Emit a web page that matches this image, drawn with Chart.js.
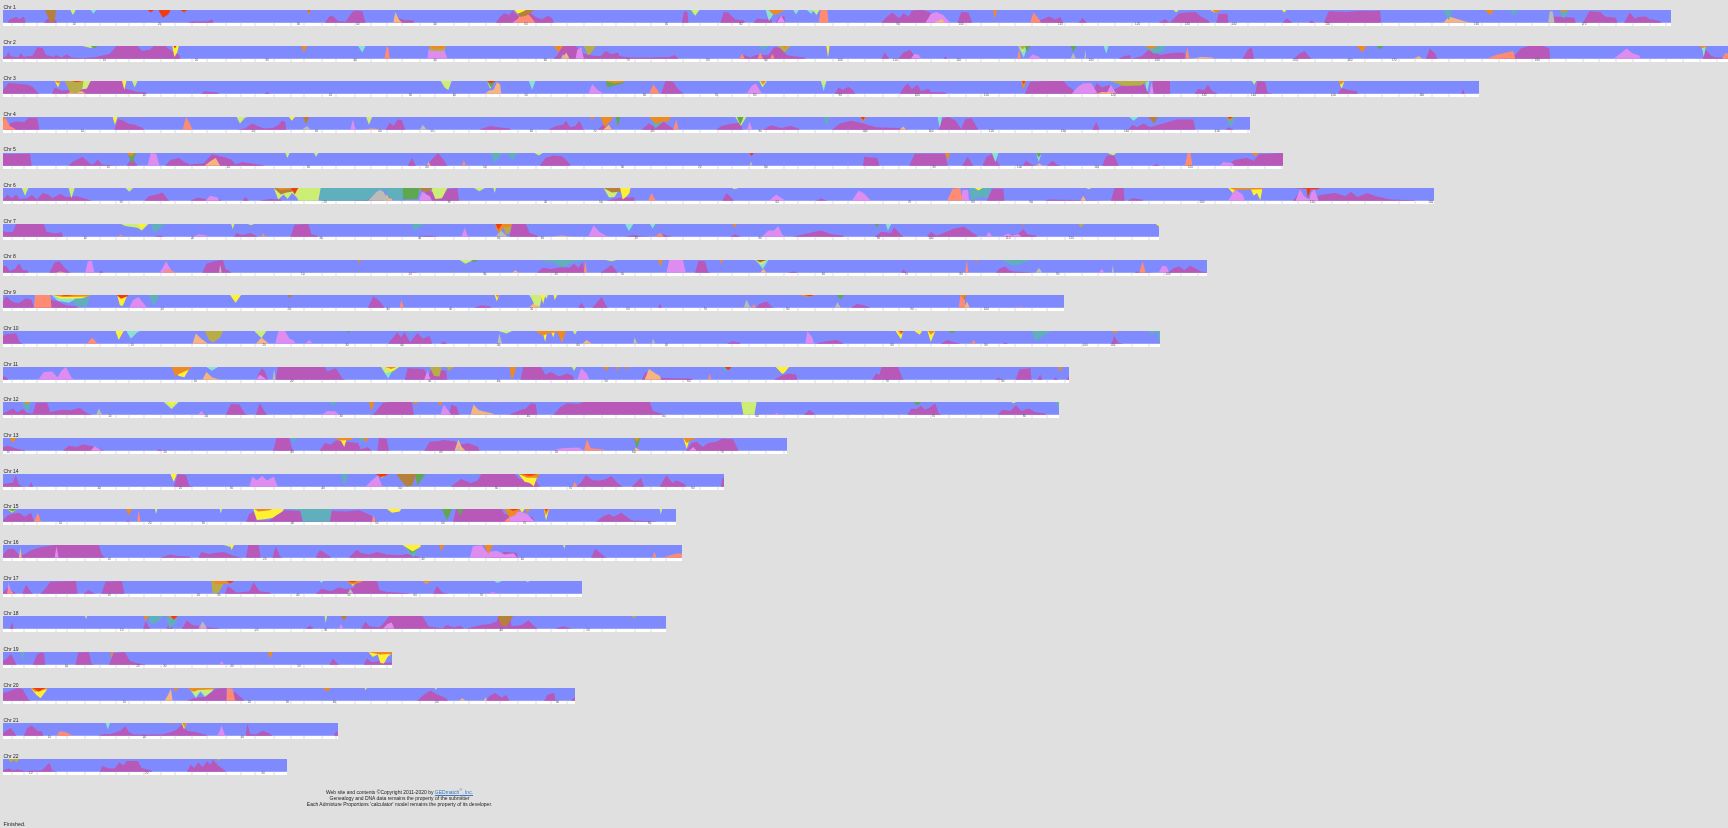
<!DOCTYPE html>
<html>
<head>
<meta charset="utf-8">
<title>Admixture painting</title>
<script src="https://cdn.jsdelivr.net/npm/chart.js@4"></script>
<style>
  html, body { margin: 0; height: 100%; background: #e0e0e0; overflow: hidden; }
  #page { position: relative; width: 1728px; height: 828px; filter: blur(0.45px); font-family: "Liberation Sans", Arial, sans-serif; color: #222; }
  #page canvas { position: absolute; }
  .chr { position: absolute; left: 3.5px; font-size: 5px; line-height: 6px; }
  #foot { position: absolute; left: 250px; width: 299px; top: 790px; text-align: center; font-size: 5px; line-height: 5.8px; }
  #foot a { color: #3a78c0; }
  #foot sup { font-size: 4px; line-height: 0; }
  #done { position: absolute; left: 3.5px; top: 821px; font-size: 5.4px; line-height: 6px; }
</style>
</head>
<body>
<div id="page">
  <div id="foot">Web site and contents ©Copyright 2011-2020 by <a href="#">GEDmatch<sup>®</sup>, Inc.</a><br>Genealogy and DNA data remains the property of the submitter<br>Each Admixture Proportions 'calculator' model remains the property of its developer.</div>
  <div id="done">Finished.</div>
</div>
<script>
// position along the chromosome, share of the bar - pairs, bottom layers grow up, top layers hang down
const chrNames = ['Chr 1','Chr 2','Chr 3','Chr 4','Chr 5','Chr 6','Chr 7','Chr 8','Chr 9','Chr 10','Chr 11','Chr 12','Chr 13','Chr 14','Chr 15','Chr 16','Chr 17','Chr 18','Chr 19','Chr 20','Chr 21','Chr 22'];
const chrStart = [6,6,6,6,6,6,6,6,6,6,6,6,6,7,7,7,7,7,8,8,8,8];
const chrEnd = [3033,3136,2684,2269,2328,2601,2104,2191,1931,2106,1940,1923,1428,1421,1327,1338,1142,1308,878,1289,759,644];
const chrPixels = [1668,1725,1476,1247,1280,1431,1156,1204,1061,1157,1066,1056,784,721,673,679,579,663,389,572,335,284];

const colors = { mag:'#b858b8', pink:'#de8cf0', salmon:'#ff8c72', peach:'#f6b480', grey:'#bcbcb4', teal:'#5fb0bc', mint:'#86e2d2', lime:'#cdee74', green:'#5fa850', olive:'#b8ac48', brown:'#b5803c', yellow:'#fff032', orange:'#ec8a24', red:'#f03c12' };
const bottomLayers = ['mag','pink','salmon','peach','grey'];
const topLayers = ['teal','mint','lime','green','olive','brown','yellow','orange','red'];

// chr 1
const mag1 = [14,0,18,.25,24,.35,30,.45,36,.3,44,.5,47,0,80,0,86,.3,100,.3,104,0,340,0,350,.12,365,.1,378,.12,385,.3,388,0,590,0,598,.5,604,.55,614,.15,628,.1,640,.85,645,.95,658,.9,664,0,715,0,725,.35,735,.2,750,.2,752,0,900,0,908,.45,915,.75,925,.6,930,.95,945,.4,960,.85,975,.4,985,.3,995,.55,1003,.35,1005,0,1238,0,1242,.9,1248,.85,1250,0,1308,0,1314,.85,1322,.8,1335,.25,1350,.2,1352,0,1368,0,1375,.35,1385,.25,1400,.3,1402,0,1408,0,1415,.5,1424,.5,1426,0,1600,0,1608,.4,1620,.8,1632,.35,1640,.75,1650,.5,1655,.95,1675,1,1688,.8,1700,.5,1713,.3,1716,0,1738,0,1745,.85,1758,.8,1765,0,1880,0,1888,.2,1905,.5,1915,.25,1925,.45,1930,0,1958,0,1965,.4,1973,0,2103,0,2115,.3,2123,0,2128,.2,2140,.75,2155,.8,2170,.85,2180,.5,2193,.2,2196,0,2208,0,2212,.7,2228,.7,2230,0,2328,0,2336,.35,2346,0,2376,0,2381,.2,2386,0,2403,0,2412,.9,2445,.85,2470,.95,2490,.9,2505,.95,2507,0,2810,0,2820,.5,2858,.4,2860,0,2873,0,2885,.9,2905,.85,2913,.5,2933,.4,2936,0,2948,0,2958,.8,2968,.3,2973,.45,2988,.5,2993,.3,3013,.15,3016,0];
const pink1 = [930,0,940,.3,950,.6,962,.3,970,0,1410,0,1418,.55,1426,0,1680,0,1690,.7,1700,.85,1712,.6,1722,.15,1726,0];
const salmon1 = [935,0,945,.6,955,.85,965,.4,972,0,1486,0,1490,1,1502,1,1504,0,1870,0,1876,.8,1884,.4,1890,0];
const peach1 = [714,0,718,.85,724,.3,730,0,1695,0,1710,.3,1716,0,2620,0,2630,.5,2645,.3,2660,.1,2670,0];
const grey1 = [2810,0,2813,.9,2818,.9,2822,0];
const teal1 = [1250,0,1258,.4,1266,0,2620,0,2630,.8,2636,0,2740,0,2748,.4,2756,0,2830,0,2838,.7,2848,0];
const mint1 = [165,0,170,.3,175,0,1390,0,1396,.85,1403,.4,1408,0,1440,0,1445,.35,1450,0,1465,0,1472,.3,1480,0];
const lime1 = [128,0,133,.4,138,0,1255,0,1262,.45,1270,0,1476,0,1482,.4,1488,0,2130,0,2135,.2,2140,0];
const brown1 = [82,0,92,.95,100,.85,102,0,332,0,336,.25,340,0,935,0,945,.55,955,.45,965,.2,970,0];
const yellow1 = [934,0,940,.3,948,.15,955,0,2197,0,2205,.2,2212,0,2327,0,2331,.2,2335,0];
const orange1 = [558,0,561,.35,565,0,1395,0,1405,.4,1412,.3,1425,0,1803,0,1806,.75,1810,0,2200,0,2208,.25,2215,0,2695,0,2705,.4,2712,0,2830,0,2838,.15,2848,0];
const red1 = [268,0,274,.2,280,0,288,0,296,.6,306,.35,310,0,328,0,334,.15,340,0,560,0,561,.2,563,0];

// chr 2
const mag2 = [6,.1,12,.2,16,.55,20,.2,34,.1,38,.45,44,.15,60,.25,68,.9,78,.85,84,.3,98,.15,102,.3,112,.1,122,.35,130,.1,150,.05,175,.15,200,.4,212,1,250,1,258,.6,272,.7,280,1,300,1,312,.6,326,.3,328,0,1005,0,1012,.3,1020,1,1045,1,1060,.4,1075,.25,1090,.2,1100,.6,1110,.35,1122,.5,1125,.2,1145,.1,1170,.1,1180,.1,1215,.15,1225,.3,1232,0,1342,0,1350,.3,1362,.1,1372,.3,1395,.3,1405,.9,1418,.85,1428,.3,1440,.2,1460,.1,1462,0,1600,0,1606,.5,1614,0,1630,0,1640,.5,1652,.7,1660,.2,1670,0,1713,0,1716,.2,1720,0,2030,0,2040,.2,2051,.3,2053,0,2072,.2,2085,.7,2095,.5,2106,.3,2125,.45,2150,.5,2153,0,2255,0,2265,.7,2272,.9,2276,0,2348,0,2358,.4,2368,.6,2373,.3,2380,0,2588,0,2595,.8,2605,.4,2608,0,2720,0,2735,.2,2750,.3,2760,.8,2775,1,2800,1,2812,.8,2813,0,3090,0,3096,.7,3106,.2,3116,.1,3136,.1];
const pink2 = [776,0,778,.7,790,.85,806,.85,812,0,1045,0,1048,.7,1055,.9,1060,.05,1062,0,1653,0,1660,.4,1668,.3,1672,0,1866,0,1875,.35,1886,.15,1890,0,2928,0,2945,.55,2952,.8,2962,.45,2975,.25,2978,0];
const salmon2 = [698,0,702,.95,705,.9,708,0,1342,0,1347,.4,1352,0,1375,0,1380,.5,1385,0,1398,0,1402,.4,1406,0,1846,0,1850,.8,1853,0,2151,0,2155,.95,2159,0,2698,0,2715,.3,2746,.6,2750,0,3125,0,3132,.5,3136,.4];
const peach2 = [1020,0,1028,.5,1034,0,2163,0,2180,.15,2200,.1,2203,0,2565,0,2575,.2,2582,0];
const grey2 = [1018,0,1022,.35,1028,0,1943,0,1948,.45,1953,0,1968,0,1970,.7,1972,0];
const teal2 = [1378,0,1386,.4,1394,0,2076,0,2095,.6,2112,.4,2116,0];
const mint2 = [650,0,658,.5,664,0,1848,0,1858,.9,1866,0,2003,0,2008,.6,2012,0,3088,0,3092,.85,3096,0];
const lime2 = [150,0,165,.15,175,0,1850,0,1856,.55,1862,0,3088,0,3090,.3,3094,0];
const green2 = [165,0,172,.2,178,0,1860,0,1864,.5,1870,0,1943,0,1948,.5,1953,0,2498,0,2505,.3,2510,0];
const olive2 = [778,0,782,.4,806,.4,810,0,1060,0,1068,.75,1074,.5,1082,0,1412,0,1424,.5,1435,0,1850,0,1856,.3,1862,0];
const yellow2 = [313,0,317,.85,322,.5,325,0,1500,0,1503,.9,1506,0];
const orange2 = [547,0,552,.5,558,0,778,0,790,.25,806,.2,810,0,1005,0,1014,.5,1022,0,1420,0,1424,.2,1430,0,2078,0,2090,.25,2100,0,2462,0,2473,.5,2480,0,3082,0,3090,.15,3100,0];
const red2 = [315,0,318,.2,321,0];

// chr 3
const mag3 = [6,.3,16,.85,30,.8,50,.7,60,.55,68,.15,72,0,95,0,100,.5,112,.25,125,.3,150,.3,160,.9,170,1,222,1,228,.4,238,.3,250,.15,265,.1,268,0,365,0,372,.2,395,.1,398,0,480,0,486,.15,490,0,1200,0,1208,1,1222,.95,1230,.4,1237,.15,1240,0,1515,0,1522,.5,1530,.3,1540,.55,1550,.2,1552,0,1633,0,1640,.5,1648,.8,1655,.35,1665,.7,1672,.2,1685,.4,1690,.15,1715,.1,1718,0,1860,0,1870,.95,1905,1,1930,1,1938,.6,1948,.3,1950,0,1983,0,1990,.85,2000,.5,2014,.7,2020,.3,2040,.7,2060,.9,2075,.8,2085,0,2091,0,2092,1,2123,1,2124,0,2168,0,2175,.4,2185,.25,2192,.7,2200,.2,2210,0,2278,0,2282,1,2296,.95,2300,.1,2310,0,2428,0,2435,.45,2448,.3,2462,.2,2464,0,2652,0,2655,.4,2658,0];
const pink3 = [1068,0,1075,.75,1085,.3,1096,0,1355,0,1365,.65,1372,.8,1380,.2,1384,0,1945,0,1955,.5,1965,.8,1980,.85,1992,0,2008,0,2016,.7,2026,0,2086,0,2090,.9,2094,0];
const salmon3 = [1178,0,1186,.75,1194,.25,1198,0];
const peach3 = [122,0,132,.2,150,.2,156,0,880,0,888,.25,896,.3,902,.9,908,.75,910,0,1990,0,2000,.15,2020,.1,2024,0];
const mint3 = [960,0,966,.7,972,0,1490,0,1495,.8,1500,0,2078,0,2082,.9,2086,0];
const lime3 = [135,0,148,.65,158,.6,165,0,240,0,245,.5,250,0,800,0,808,.55,814,.7,820,0,884,0,890,.6,898,0,1378,0,1384,.5,1392,0,1490,0,1495,.5,1500,0,2272,0,2276,.3,2280,0,2430,0,2435,.6,2440,0];
const green3 = [884,0,892,.55,898,0,1100,0,1102,.5,1130,.2,1134,0];
const olive3 = [118,0,128,.9,140,.95,150,.6,152,0,2015,0,2040,.4,2070,.35,2085,0];
const yellow3 = [100,0,106,.5,110,0,222,0,226,.7,230,0,2430,0,2434,.55,2438,0];
const orange3 = [100,0,106,.2,112,0,1100,0,1115,.2,1130,.1,1134,0,1380,0,1385,.3,1390,0,1853,0,1858,.7,1862,0,2428,0,2433,.3,2440,0];
const red3 = [130,0,140,.1,150,0,884,0,892,.2,900,0,1855,0,1858,.25,1861,0];

// chr 4
const mag4 = [12,.1,20,.55,30,.65,45,.6,52,.95,68,.95,72,0,208,0,215,.85,225,.7,235,.45,245,.4,260,.15,262,0,430,0,445,.1,458,.5,470,.25,480,.1,495,.15,505,.35,512,.7,518,.65,520,0,700,0,708,.55,715,.3,722,.8,730,.75,736,0,870,0,890,.3,905,.2,925,.1,928,0,995,0,1010,.3,1022,.4,1028,.7,1035,.2,1045,.3,1052,.7,1060,0,1085,0,1095,.4,1110,.2,1112,0,1165,0,1178,.5,1190,.2,1205,.6,1222,.1,1224,0,1300,0,1310,.3,1325,.45,1345,.55,1348,0,1385,0,1400,.35,1418,.15,1435,.3,1450,.1,1452,0,1510,0,1525,.5,1545,.7,1568,.5,1590,.2,1630,.15,1650,0,1703,0,1712,.9,1722,1,1735,.7,1745,.05,1752,.85,1764,.9,1776,0,1983,0,1990,.6,1996,0,2048,0,2056,.4,2064,.2,2076,.5,2088,.2,2136,.8,2166,.8,2170,0,2225,0,2230,.2,2240,0];
const pink4 = [636,0,641,.8,646,0,1356,0,1361,.65,1366,0];
const salmon4 = [6,.9,12,.85,18,.3,25,.15,30,0,332,0,338,1,345,.5,350,0,1222,0,1228,.8,1232,0];
const peach4 = [660,0,675,.1,690,.05,692,0,1095,0,1105,.4,1112,0,1633,0,1640,.25,1645,0];
const grey4 = [548,0,558,.3,564,0,762,0,768,.4,775,0];
const teal4 = [1180,0,1190,.9,1200,.5,1205,0,1495,0,1500,.7,1506,0,2225,0,2233,.8,2243,0];
const mint4 = [1702,0,1706,.85,1710,0,2050,0,2058,.3,2066,0];
const lime4 = [430,0,436,.5,445,.05,450,0,665,0,670,.6,676,0,1335,0,1345,.7,1355,0];
const green4 = [1118,0,1122,.8,1126,0,1338,0,1344,.6,1350,0];
const brown4 = [550,0,556,.55,562,0,2085,0,2095,.5,2102,0];
const yellow4 = [205,0,209,.6,214,0,525,0,530,.3,536,0];
const orange4 = [6,.4,10,0,1072,0,1075,.3,1078,0,1090,0,1098,.8,1110,.25,1113,0,1178,0,1190,.5,1215,.3,1218,0,1562,0,1568,.4,1572,0,2226,0,2232,.3,2240,0];
const red4 = [1562,0,1568,.25,1570,0,2228,0,2232,.15,2238,0];

// chr 5
const mag5 = [6,.95,10,.9,55,.95,58,0,125,0,132,.3,150,.7,158,.4,165,.15,170,.1,178,.5,185,.1,195,.05,230,0,240,.6,250,0,300,0,310,.45,325,.6,335,.3,345,.1,370,.2,385,.9,405,.7,420,.5,428,.1,440,.3,478,.05,480,0,740,0,748,.6,755,0,775,0,785,.55,795,1,805,.5,812,0,980,0,990,.6,1005,.8,1020,.75,1030,.35,1036,0,1566,0,1568,.7,1592,.6,1596,0,1650,0,1660,.95,1715,.95,1720,0,1746,0,1756,.7,1766,0,1783,0,1790,.7,1800,.9,1808,.4,1815,0,1855,0,1862,.4,1872,.1,1880,0,1900,0,1910,.4,1918,.1,1925,0,2000,0,2008,.8,2022,.8,2030,0,2090,0,2100,.15,2104,0,2228,0,2240,.45,2262,.6,2275,.4,2285,.9,2328,1];
const pink5 = [268,0,274,1,284,.95,290,0,2213,0,2220,.3,2236,.2,2240,0];
const salmon5 = [838,0,842,.4,846,0,2150,0,2155,1,2160,1,2164,0];
const peach5 = [372,0,382,.35,392,.6,400,0,775,0,778,.3,782,0,1880,0,1886,.2,1892,0];
const grey5 = [1360,0,1363,.35,1366,0];
const teal5 = [890,0,898,.8,910,.1,920,0,930,.55,940,0,1800,0,1805,.3,1810,0];
const mint5 = [1800,0,1806,.7,1812,0,1880,0,1885,.7,1890,0];
const lime5 = [518,0,522,.4,526,0,570,0,574,.3,578,0,970,0,978,.2,985,0,2010,0,2020,.2,2026,0];
const green5 = [232,0,240,.9,247,0,1880,0,1885,.35,1890,0];
const orange5 = [230,0,238,.3,246,0,1715,0,1720,.6,1724,0,2270,0,2278,.25,2285,0];
const red5 = [1360,0,1364,.25,1368,0];

// chr 6
const mag6 = [6,.1,14,.5,22,.2,30,.5,36,.15,50,.2,58,.45,68,.1,78,.6,88,.5,96,.2,110,.55,120,.3,140,.35,165,.05,168,0,262,0,270,.35,285,.5,295,.65,305,.1,308,0,345,0,360,.25,375,.1,400,.1,402,0,440,0,446,.3,452,0,470,0,490,.15,510,.1,512,0,640,0,660,.2,700,.2,702,0,760,0,775,.8,800,.5,810,.9,830,1,833,0,1100,0,1120,.2,1150,.3,1152,0,1310,0,1318,.6,1330,.1,1332,0,1480,0,1490,.2,1500,0,1790,0,1800,.95,1820,.95,1822,0,1895,0,1902,.1,1970,.05,2015,0,2022,1,2038,1,2040,0,2045,0,2055,.2,2072,.1,2073,0,2345,0,2355,.55,2365,.4,2375,.15,2392,.4,2400,.5,2422,.6,2440,.35,2450,.7,2462,.3,2480,.6,2495,.35,2523,.1,2565,.05,2567,0];
const pink6 = [373,0,382,.4,395,.25,398,0,760,0,766,.7,780,.35,784,0,1395,0,1408,.5,1422,.1,1425,0,1545,0,1558,.8,1568,.55,1580,0,1743,0,1746,.85,1756,.85,1758,0,2228,0,2240,.9,2254,.5,2258,0,2350,0,2358,.9,2365,.4,2375,.1,2378,.6,2384,.9,2392,0];
const salmon6 = [1176,0,1182,.6,1190,0,1718,0,1728,.95,1742,1,1746,0];
const peach6 = [695,0,702,.5,710,.45,712,0,1960,0,1965,.4,1970,0];
const grey6 = [668,0,680,.55,688,.9,696,.7,705,0];
const teal6 = [578,0,582,1,665,1,672,.8,682,.3,690,.15,700,.2,705,.8,730,1,732,0,1758,0,1762,.95,1780,.7,1792,.8,1798,0];
const lime6 = [40,0,46,.6,52,0,125,0,130,.8,136,0,228,0,235,.3,242,0,497,0,505,.9,515,.5,522,.85,530,.4,538,.7,542,1,578,1,582,0,730,0,733,.4,760,.4,762,0,782,0,790,.85,802,.8,812,0,860,0,870,.25,880,0,895,0,898,.4,900,0,1095,0,1105,.75,1115,.7,1125,0,1328,0,1332,.1,1340,0,1970,0,1975,.1,1980,0];
const green6 = [730,0,732,.9,758,.85,762,0];
const brown6 = [497,0,510,.5,520,.35,530,.3,538,0,760,0,768,.3,780,.25,785,0,1095,0,1110,.35,1125,.3,1127,0];
const yellow6 = [1125,0,1130,.9,1138,.6,1142,.4,1144,0,1768,0,1775,.2,1782,0,2228,0,2236,.4,2242,0,2268,0,2274,.6,2280,.4,2286,.95,2290,0];
const orange6 = [500,0,510,.15,525,.1,540,0,2230,0,2240,.15,2290,.1,2292,0];
const red6 = [528,0,535,.5,540,.1,542,0,2345,0,2370,.05,2372,.8,2378,.1,2390,.1,2394,0];

// chr 7
const mag7 = [6,.45,15,.35,24,.4,30,1,80,1,85,.4,100,.25,112,.35,115,0,280,0,290,.1,300,0,425,0,430,.3,440,.15,455,.3,465,.1,468,0,528,0,535,.95,560,1,566,.2,575,.1,578,0,760,0,775,.1,790,.05,795,0,925,0,930,1,955,1,962,.3,975,.1,978,0,1135,0,1150,.15,1165,.05,1190,0,1205,.2,1215,.05,1220,0,1325,0,1335,.2,1345,0,1440,0,1465,.25,1490,.5,1510,.2,1530,.1,1532,0,1588,0,1600,.4,1618,.3,1623,.75,1635,.2,1640,0,1683,0,1690,.4,1700,.1,1708,.2,1730,.6,1750,.8,1760,.5,1773,.1,1775,0,1818,0,1835,.2,1845,.1,1858,.6,1865,.2,1880,.1,1882,0];
const pink7 = [350,0,362,.2,375,.1,378,0,838,0,844,.7,850,0,1068,0,1078,.9,1088,.4,1100,.1,1105,0,1384,0,1395,.5,1405,.5,1413,.85,1420,.2,1425,0,1790,0,1795,.4,1802,0,1818,0,1830,.25,1838,.1,1850,.2,1854,0];
const salmon7 = [215,0,219,.2,224,0,475,0,478,.3,482,0,1190,0,1198,.3,1206,0];
const peach7 = [1000,0,1020,.1,1040,0];
const grey7 = [900,0,910,.5,918,.15,922,0];
const teal7 = [275,0,280,.7,296,.15,300,0,748,0,752,.5,770,0];
const mint7 = [1135,0,1142,.55,1150,0,1180,0,1185,.35,1190,0,1608,0,1612,.5,1618,0];
const lime7 = [220,0,228,.15,250,.3,258,.5,270,0,420,0,423,.4,426,0,450,0,456,.1,462,0];
const green7 = [1588,0,1592,.25,1596,0];
const olive7 = [913,0,918,.8,926,.7,929,0,1958,0,1962,.3,1968,0];
const yellow7 = [250,0,258,.4,266,0,2098,0,2104,.2];
const orange7 = [898,0,905,.7,915,.3,928,.2,930,0,1330,0,1334,.3,1338,0,1856,0,1858,.15,1860,0];
const red7 = [900,0,905,.45,912,0];

// chr 8
const mag8 = [6,.5,12,.55,18,.15,28,.3,35,.75,42,.2,50,.2,52,0,90,0,100,.8,108,.9,120,.3,128,0,180,0,184,.2,188,0,368,0,375,.7,390,.9,405,1,410,.3,418,.1,420,0,745,0,752,.05,760,0,975,0,985,.4,1000,.3,1020,.45,1035,.4,1042,.7,1050,.4,1058,.85,1062,0,1090,0,1100,.3,1110,.6,1120,.1,1122,0,1262,0,1268,.95,1280,.9,1285,.1,1290,0,1430,0,1440,.1,1450,0,1636,0,1640,.3,1645,0,1808,0,1815,.35,1825,.5,1832,.2,1842,.1,1880,0,2058,0,2065,.1,2095,0,2120,0,2130,.35,2140,.5,2150,.2,2160,.55,2172,.3,2180,.1,2191,.05];
const pink8 = [155,0,160,.9,167,.95,172,0,290,0,296,.4,302,.9,310,.3,315,0,1210,0,1215,1,1240,1,1245,0,1995,0,2000,.3,2005,0,2103,0,2110,.55,2118,.5,2122,0];
const salmon8 = [298,0,304,.3,316,.1,320,0,1060,0,1063,.95,1066,0,1752,0,1755,1,1758,0,2068,0,2074,.9,2080,0];
const peach8 = [100,0,110,.1,120,0,930,0,936,.2,942,0,1380,0,1386,.3,1392,0];
const grey8 = [398,0,400,.65,403,0,1880,0,1886,.4,1892,0,2018,0,2020,.6,2022,0];
const teal8 = [975,0,1005,.2,1022,.6,1040,.15,1070,0,1818,0,1840,.45,1850,.35,1870,0];
const mint8 = [1372,0,1385,.7,1395,0];
const lime8 = [835,0,845,.3,855,.1,862,0,1100,0,1110,.1,1120,0,1370,0,1383,.4,1392,0];
const green8 = [855,0,862,.2,868,0,1372,0,1380,.2,1390,0];
const orange8 = [650,0,652,.3,655,0,1195,0,1199,.5,1203,0,1306,0,1309,.3,1312,0,1770,0,1772,.25,1775,0];
const red8 = [1375,0,1382,.12,1392,0];

// chr 9
const mag9 = [6,.5,12,.9,22,.5,34,.35,48,.75,58,.6,62,0,94,.6,106,.5,120,.2,140,.1,143,0,668,0,678,.9,690,.5,695,.2,698,0,860,0,875,.2,890,.1,892,0,1050,0,1055,.4,1062,0,1075,0,1085,.5,1092,.85,1100,.2,1103,0,1195,0,1198,.4,1201,0,1372,0,1378,.3,1392,.5,1400,.1,1405,0,1545,0,1555,.3,1568,.2,1580,0];
const pink9 = [235,0,242,.6,252,.85,262,.3,268,0];
const salmon9 = [62,0,64,1,92,1,94,0,725,0,729,.6,733,0,1365,0,1368,.3,1372,0,1740,0,1743,1,1750,1,1752,0,1851,0,1853,.15,1856,0];
const peach9 = [960,0,970,.4,976,.2,982,0,1750,0,1755,.5,1760,0];
const grey9 = [1350,0,1355,.65,1361,.1,1365,0,1515,0,1520,.45,1526,0];
const teal9 = [125,0,140,.9,158,.9,164,0,270,0,280,.85,290,0,418,0,428,.35,438,0];
const mint9 = [94,0,105,.45,125,.6,135,.4,140,0,960,0,970,.5,978,0,1748,0,1750,.3,1752,0];
const lime9 = [962,0,970,.75,980,.9,985,0,988,0,992,.3,995,0,1005,0,1007,.4,1012,0];
const green9 = [1518,0,1526,.35,1532,0];
const brown9 = [522,0,526,.25,530,0,1745,0,1750,.4,1755,0];
const yellow9 = [96,0,110,.3,130,.3,150,.25,165,0,213,0,218,.8,223,.85,232,0,418,0,428,.6,438,0,898,0,902,.5,906,0,982,0,986,.7,990,0,1005,0,1007,.35,1010,0];
const orange9 = [95,0,115,.15,160,.12,165,0,900,0,903,.2,906,0,1450,0,1465,.15,1482,0,1742,0,1747,.25,1755,0];
const red9 = [110,0,120,.08,135,0,212,0,220,.3,232,.1,234,0,1460,0,1470,.1,1478,0];

// chr 10
const mag10 = [6,.6,12,.75,30,.8,36,.15,42,0,705,0,715,.55,722,.9,728,.5,735,.9,745,.1,758,.85,768,.4,780,.6,785,0,800,0,806,.2,812,0,1320,0,1330,.2,1342,.1,1345,0,1480,0,1500,.2,1520,.3,1532,0,1708,0,1720,.3,1730,.15,1745,0,1820,0,1826,.1,1830,0,2018,0,2023,.6,2030,.1,2040,0];
const pink10 = [500,0,506,1,518,1,526,.4,532,.3,538,0,555,0,562,.3,568,0,1462,0,1466,1,1475,.5,1478,0];
const salmon10 = [158,0,168,.5,178,0,1763,0,1768,.3,1772,0];
const peach10 = [350,0,356,.8,366,.4,375,.1,378,0,465,0,475,.5,485,.15,488,0,1058,0,1065,.3,1075,0];
const grey10 = [903,0,907,.8,912,0,1150,0,1152,.5,1158,0,1183,0,1186,.4,1190,0];
const teal10 = [740,0,746,.25,752,0,1873,0,1880,.8,1890,.5,1908,0,2083,0,2092,.3,2100,0,2103,.6,2106,1];
const mint10 = [230,0,238,.6,250,.1,255,0];
const lime10 = [462,0,475,.55,484,0,905,0,920,.2,930,0,1040,0,1044,.3,1048,0];
const green10 = [394,0,398,.55,402,0,630,0,633,.2,636,0,1723,0,1728,.2,1735,0];
const olive10 = [372,0,380,.7,388,.9,400,.5,406,0];
const yellow10 = [210,0,216,.7,225,0,985,0,990,.85,994,0,1000,0,1005,.5,1008,0,1018,0,1021,.85,1024,0,1626,0,1636,.65,1640,0,1660,0,1670,.3,1674,0,1684,0,1690,.85,1698,0];
const orange10 = [972,0,985,.35,1000,.15,1012,.1,1020,.9,1028,0,1630,0,1636,.3,1642,0,1685,0,1690,.3,1698,0,2018,0,2024,.2,2030,0];
const red10 = [1634,0,1636,.15,1640,0];

// chr 11
const mag11 = [6,.3,12,.2,16,0,465,0,470,.5,476,.9,482,.6,486,0,500,0,505,1,590,1,594,.65,610,.9,622,.1,628,0,735,0,740,.9,770,.85,778,.2,782,.8,810,.7,812,0,945,0,950,1,982,1,990,.4,1000,.6,1015,.25,1030,.5,1040,.3,1042,0,1165,0,1172,.6,1200,.15,1255,.1,1258,0,1405,0,1420,.35,1432,.5,1445,.4,1447,0,1583,0,1590,.5,1596,.4,1600,1,1630,1,1638,.1,1640,0,1806,0,1812,.2,1818,0,1843,0,1850,.8,1870,.9,1872,0,1882,0,1888,.4,1892,0,1912,0,1915,.2,1920,0,1935,0,1940,.3];
const pink11 = [70,0,80,.6,95,.65,105,.2,112,.7,120,1,130,.2,135,0,465,0,472,.4,482,.1,484,0,770,0,776,.7,782,0,1048,0,1055,.9,1065,.5,1070,0];
const salmon11 = [1285,0,1288,.5,1291,0];
const peach11 = [368,0,375,.6,385,.2,400,0,1170,0,1178,.85,1190,.5,1198,.3,1200,0];
const grey11 = [495,0,498,.85,501,0];
const teal11 = [700,0,708,.65,715,.4,720,0,790,0,795,.5,800,0,1310,0,1316,.35,1322,0];
const mint11 = [375,0,385,.3,396,0,692,0,705,.9,712,.3,720,0];
const lime11 = [692,0,700,.5,715,.3,725,0,1038,0,1042,.3,1046,0];
const olive11 = [780,0,788,.7,798,.75,802,0,810,0,815,.3,825,0];
const yellow11 = [312,0,325,.7,335,.8,346,0,700,0,710,.4,722,0,1408,0,1420,.55,1425,.4,1432,0];
const orange11 = [312,0,318,.7,330,.45,346,.15,348,0,700,0,710,.15,720,0,925,0,928,.9,932,.8,937,0,1095,0,1100,.3,1106,0,1118,0,1120,.3,1124,0,1135,0,1137,.3,1140,0,1920,0,1924,.4,1928,0];
const red11 = [1315,0,1322,.25,1328,0];

// chr 12
const mag12 = [6,.1,24,.5,32,.2,42,.45,50,.15,60,.1,66,.95,86,.95,92,.2,100,.3,115,.4,130,.35,145,.55,160,.1,168,0,410,0,420,.85,435,.8,445,.1,450,0,465,0,472,.9,482,.2,485,0,675,0,680,.1,695,.9,705,1,748,1,752,0,815,0,820,.8,830,.6,834,0,925,0,940,.3,955,.5,965,.9,973,.85,976,0,1005,0,1018,.6,1030,.9,1050,.85,1060,1,1180,1,1186,.3,1200,.1,1202,0,1460,0,1470,.4,1480,.05,1482,0,1648,0,1655,.5,1665,.45,1672,.7,1680,.4,1690,.6,1698,.9,1705,.1,1710,0,1812,0,1820,.4,1835,.3,1845,.75,1855,.3,1868,.5,1880,.2,1898,.1,1900,0];
const pink12 = [360,0,366,.3,372,0,585,0,595,.3,610,.25,615,0,800,0,806,.8,814,.35,820,0,1405,0,1410,.15,1418,0];
const peach12 = [855,0,860,.8,870,.35,885,.2,895,.1,898,0];
const grey12 = [175,0,180,.5,186,0];
const teal12 = [40,0,50,.8,58,0,598,0,605,.3,612,0,1916,0,1922,.4,1923,.4];
const lime12 = [298,0,312,.55,325,0,1346,0,1350,1,1370,1,1374,0,1836,0,1840,.1,1846,0];
const green12 = [1660,0,1666,.3,1672,0];
const yellow12 = [305,0,312,.25,320,0];
const orange12 = [44,0,50,.2,56,0,670,0,675,.7,680,0,750,0,755,.2,760,0,795,0,800,.3,804,0];

// chr 13
const mag13 = [6,.3,15,.4,28,.2,45,.05,48,0,115,0,125,.4,140,.3,150,.5,165,.4,185,.1,190,0,285,0,290,.15,296,0,496,0,502,1,525,1,530,.2,534,0,580,0,590,.6,600,.5,610,.8,630,.7,650,.6,655,.1,668,.3,675,0,685,0,688,1,702,.95,706,0,770,0,780,.7,795,.75,805,.85,825,.75,838,.5,850,.6,868,.3,870,0,1245,0,1255,.6,1265,.7,1275,.3,1285,.6,1300,.7,1310,.95,1330,.9,1338,.2,1340,0];
const pink13 = [165,0,172,.35,182,.1,186,0,1000,0,1020,.2,1050,.25,1060,0,1250,0,1258,.3,1264,0];
const salmon13 = [1060,0,1065,.9,1072,.2,1095,.1,1098,0];
const peach13 = [825,0,832,.9,838,.3,845,0,1150,0,1154,.25,1162,0];
const grey13 = [828,0,832,.5,836,0];
const teal13 = [526,0,534,.3,540,0,650,0,656,.35,662,0];
const green13 = [1150,0,1156,.8,1162,0];
const yellow13 = [612,0,620,.3,625,.7,630,0,1240,0,1246,.85,1252,0];
const orange13 = [18,0,24,.4,30,0,606,0,618,.2,638,.15,640,0,660,0,664,.4,668,0,1150,0,1156,.3,1160,0,1240,0,1246,.4,1255,.15,1265,0];

// chr 14
const mag14 = [7,.2,18,.3,26,.3,32,.9,38,.2,44,.05,58,0,62,.35,66,0,342,0,350,1,366,.9,372,.1,380,0,885,0,895,.3,905,.6,925,.3,938,.5,945,1,1010,1,1020,.6,1050,.6,1058,.1,1062,0,1130,0,1140,.3,1150,.9,1165,.5,1178,.5,1190,.6,1200,.85,1212,.3,1222,0,1240,0,1258,.7,1264,0,1295,0,1308,.9,1320,.3,1328,.5,1345,.2,1346,0,1415,0,1418,.7,1421,.7];
const pink14 = [490,0,496,.8,505,.5,515,.85,525,.5,538,.8,546,0,718,0,730,.5,742,.9,750,.1,755,0];
const salmon14 = [1124,0,1128,.4,1134,0];
const teal14 = [670,0,676,.9,684,0,924,0,928,.2,932,0];
const green14 = [815,0,820,.9,830,.3,835,0];
const brown14 = [778,0,790,.65,800,1,810,.85,816,.2,818,0];
const yellow14 = [335,0,342,.6,348,0,740,0,750,.3,760,0,1018,0,1030,.6,1040,.7,1048,.95,1055,.2,1058,0];
const orange14 = [1018,0,1035,.3,1055,.3,1060,0];
const red14 = [738,0,748,.25,760,.1,762,0,1025,0,1040,.15,1055,0];

// chr 15
const mag15 = [7,.15,16,.5,28,.65,38,.7,50,.4,62,.7,68,0,248,0,252,.1,256,0,484,0,490,.6,498,.8,505,.1,530,.1,545,.55,560,.9,590,.85,595,.2,648,.2,652,.85,680,.8,705,.9,730,.5,735,0,890,0,895,.95,900,1,985,1,990,.6,1045,.4,1050,0,1170,0,1185,.45,1195,.6,1205,.4,1220,.7,1240,.1,1285,.05,1288,0];
const pink15 = [995,0,1005,.7,1020,.8,1035,.6,1045,.2,1050,0];
const salmon15 = [68,0,75,.7,82,0,270,0,273,.9,277,0,730,0,734,.5,738,0,990,0,997,.3,1004,0];
const teal15 = [565,0,580,.1,590,.1,595,1,648,1,652,0];
const lime15 = [15,0,25,.3,35,0,305,0,307,.4,310,0,432,0,434,.35,437,0,870,0,878,.5,888,0,1295,0,1297,.45,1300,0];
const green15 = [15,0,26,.2,35,0,868,0,878,.9,888,0,898,0,904,.55,910,0];
const yellow15 = [498,0,505,.85,520,.8,535,.7,555,.2,558,0,760,0,770,.3,785,.2,788,0,1020,0,1025,.3,1030,0,1068,0,1072,.9,1078,0];
const orange15 = [248,0,253,.5,260,0,500,0,508,.2,530,.1,535,0,990,0,1000,.65,1010,.5,1022,0,1032,0,1036,.4,1040,0,1068,0,1072,.5,1078,0];
const red15 = [1000,0,1008,.15,1020,0,1070,0,1072,.2,1076,0];

// chr 16
const mag16 = [7,.2,15,.65,28,.7,40,.15,50,.3,60,.55,78,.8,100,.95,106,1,195,1,200,.3,206,.05,210,0,315,0,335,.25,350,.15,372,.1,375,0,390,0,396,.45,410,.3,425,.4,440,.45,460,.15,470,.05,483,0,488,1,508,1,512,0,535,0,542,.9,550,.1,556,0,620,0,628,.6,645,.2,650,0,685,0,700,.6,710,.35,725,.25,740,.45,760,.25,785,.2,800,.3,820,.1,825,0,960,0,990,.45,1014,.4,1016,0,1160,0,1168,.7,1185,.15,1190,0];
const pink16 = [108,0,112,.9,116,0,922,0,928,.9,945,1,955,.45,975,.55,990,.25,1008,.35,1015,0];
const salmon16 = [1280,0,1284,.5,1288,0,1300,0,1315,.2,1330,.35,1338,.3];
const peach16 = [38,0,41,.8,44,0];
const teal16 = [792,0,805,.7,812,1,820,.3,826,0];
const green16 = [795,0,808,.65,818,.4,826,0];
const yellow16 = [452,0,455,.4,460,0,790,0,800,.25,810,.5,825,.15,826,0];
const orange16 = [862,0,866,.5,872,0,950,0,958,.7,968,0];
const lime16 = [440,0,452,.15,460,0,1105,0,1107,.3,1110,0];

// chr 17
const mag17 = [7,.1,15,.45,30,.1,32,0,45,0,52,.7,62,.15,66,0,80,0,90,.4,100,.95,150,1,153,0,165,0,175,.3,185,.05,188,0,200,0,208,.95,240,1,245,0,442,0,448,.6,465,.1,480,.15,490,.2,498,.9,510,.2,530,.1,532,0,620,0,632,.4,650,.2,665,.5,680,.35,695,.5,700,1,740,1,745,.3,760,.15,780,.1,800,.05,805,0,850,0,858,.6,868,.1,880,0];
const pink17 = [15,0,18,.9,22,.3,28,0,960,0,966,.15,980,0];
const salmon17 = [15,0,19,.5,24,0];
const grey17 = [682,0,688,.4,694,0];
const olive17 = [415,0,418,1,430,.9,440,.2,445,0];
const mint17 = [628,0,631,.15,635,0,970,0,976,.15,985,0,1032,0,1035,.1,1040,0];
const yellow17 = [685,0,692,.4,700,.1,704,0,830,0,836,.2,846,0];
const orange17 = [415,0,425,.25,450,.2,460,0,680,0,690,.3,710,.1,712,0,828,0,836,.15,850,0];
const red17 = [445,0,452,.2,460,0,682,0,692,.12,702,0];

// chr 18
const mag18 = [20,0,25,.5,28,0,282,0,287,.6,292,.2,296,0,328,0,334,.5,340,0,358,0,368,.65,378,.3,395,.2,405,.15,430,.05,432,0,600,0,610,.25,616,0,710,0,718,.55,726,.2,745,.1,755,.5,765,1,830,1,842,.2,855,.1,870,.05,878,.3,892,.1,905,.25,912,0,925,.1,945,.3,960,.35,975,.55,980,1,1002,.9,1005,.2,1025,.3,1038,.65,1050,.2,1056,0,1090,0,1105,.2,1120,.05,1122,0];
const pink18 = [390,0,398,.55,404,.3,408,0,666,0,670,.4,675,0,752,0,762,.4,770,.5,775,0];
const grey18 = [394,0,399,.6,405,0];
const teal18 = [290,0,298,.65,310,.45,318,.2,322,0,328,0,333,1,345,.6,350,0];
const lime18 = [168,0,170,.25,172,0,638,0,640,.55,643,0];
const brown18 = [670,0,676,.4,682,0,978,0,985,.75,995,.8,1005,.2,1008,0];
const olive18 = [1240,0,1245,.2,1250,0];
const orange18 = [282,0,287,.4,292,0,330,0,340,.2,352,0];
const red18 = [336,0,342,.3,350,0];

// chr 19
const mag19 = [8,.3,16,.5,26,.85,34,.3,38,0,75,0,84,.8,92,.95,100,.9,102,0,170,0,176,.95,200,1,206,.1,212,0,245,0,255,.9,280,1,292,.3,310,.1,325,.05,328,0,738,0,746,.5,756,.1,760,0,815,0,822,.5,832,.2,850,.3,865,.15,878,.2];
const pink19 = [492,0,497,.3,503,0];
const teal19 = [48,0,52,.75,56,0];
const yellow19 = [825,0,835,.4,846,.2,852,.85,860,.9,868,.4,878,.1];
const orange19 = [248,0,251,.5,255,0,600,0,606,.5,612,0,825,0,850,.2,878,.15];

// chr 20
const mag20 = [8,.6,22,.75,40,1,52,.9,65,.1,70,0,420,0,440,.25,460,.3,478,.75,485,.95,508,1,510,0,527,.7,545,.15,548,0,935,0,950,.45,965,.8,978,.55,1000,.2,1005,0,1090,0,1098,.4,1110,.6,1125,.25,1135,.45,1142,0,1220,0,1228,.5,1242,.6,1246,0,1280,0,1289,.3];
const salmon20 = [508,0,510,1,522,.95,527,.1,530,0];
const peach20 = [370,0,378,.5,384,.95,388,0,1030,0,1036,.2,1045,0,1085,0,1088,.3,1092,0];
const mint20 = [425,0,440,.8,450,.3,460,.7,475,.3,480,0];
const lime20 = [425,0,440,.65,450,.2,462,.6,478,.15,480,0,975,0,977,.15,980,0];
const yellow20 = [70,0,82,.5,92,.8,105,.2,107,0,818,0,820,.15,823,0];
const orange20 = [70,0,80,.3,105,.1,107,0,390,0,395,.3,400,0,420,0,435,.3,445,.15,480,.1,482,0,725,0,730,.2,736,.25,742,0];
const red20 = [75,0,88,.3,103,0];

// chr 21
const mag21 = [8,.2,15,.4,25,.6,34,.2,38,0,55,0,62,.6,72,.8,85,.4,95,.35,98,0,220,0,235,.15,250,.15,262,.3,272,.4,282,.75,290,.3,300,.1,365,.1,385,.3,398,.5,410,.95,420,.4,440,.3,465,.05,468,0,552,0,556,.95,562,.15,575,.1,590,.4,605,.2,612,0,750,0,755,.4,759,.1];
const pink21 = [488,0,494,.4,498,.8,505,.1,510,0];
const salmon21 = [128,0,135,.35,148,.3,160,.1,164,0];
const mint21 = [238,0,243,.5,248,0];
const lime21 = [408,0,414,.5,420,0];
const orange21 = [378,0,385,.05,392,0,410,0,415,.35,420,0];

// chr 22
const mag22 = [8,.1,14,.2,22,.25,30,.1,40,.2,58,.05,76,.1,95,.1,102,.35,112,.7,118,.1,130,0,225,0,230,.45,245,.25,258,.25,268,.75,278,.5,285,.85,310,.85,318,.3,340,.1,342,0,420,0,428,.55,437,.3,445,.75,455,.35,465,.85,472,.55,478,.95,490,.5,505,.1,508,0];
const olive22 = [20,0,26,.3,32,.05,38,.3,44,0,486,0,491,.15,496,0];

const chrLayers = [
  { mag:mag1, pink:pink1, salmon:salmon1, peach:peach1, grey:grey1, teal:teal1, mint:mint1, lime:lime1, brown:brown1, yellow:yellow1, orange:orange1, red:red1 },
  { mag:mag2, pink:pink2, salmon:salmon2, peach:peach2, grey:grey2, teal:teal2, mint:mint2, lime:lime2, green:green2, olive:olive2, yellow:yellow2, orange:orange2, red:red2 },
  { mag:mag3, pink:pink3, salmon:salmon3, peach:peach3, mint:mint3, lime:lime3, green:green3, olive:olive3, yellow:yellow3, orange:orange3, red:red3 },
  { mag:mag4, pink:pink4, salmon:salmon4, peach:peach4, grey:grey4, teal:teal4, mint:mint4, lime:lime4, green:green4, brown:brown4, yellow:yellow4, orange:orange4, red:red4 },
  { mag:mag5, pink:pink5, salmon:salmon5, peach:peach5, grey:grey5, teal:teal5, mint:mint5, lime:lime5, green:green5, orange:orange5, red:red5 },
  { mag:mag6, pink:pink6, salmon:salmon6, peach:peach6, grey:grey6, teal:teal6, lime:lime6, green:green6, brown:brown6, yellow:yellow6, orange:orange6, red:red6 },
  { mag:mag7, pink:pink7, salmon:salmon7, peach:peach7, grey:grey7, teal:teal7, mint:mint7, lime:lime7, green:green7, olive:olive7, yellow:yellow7, orange:orange7, red:red7 },
  { mag:mag8, pink:pink8, salmon:salmon8, peach:peach8, grey:grey8, teal:teal8, mint:mint8, lime:lime8, green:green8, orange:orange8, red:red8 },
  { mag:mag9, pink:pink9, salmon:salmon9, peach:peach9, grey:grey9, teal:teal9, mint:mint9, lime:lime9, green:green9, brown:brown9, yellow:yellow9, orange:orange9, red:red9 },
  { mag:mag10, pink:pink10, salmon:salmon10, peach:peach10, grey:grey10, teal:teal10, mint:mint10, lime:lime10, green:green10, olive:olive10, yellow:yellow10, orange:orange10, red:red10 },
  { mag:mag11, pink:pink11, salmon:salmon11, peach:peach11, grey:grey11, teal:teal11, mint:mint11, lime:lime11, olive:olive11, yellow:yellow11, orange:orange11, red:red11 },
  { mag:mag12, pink:pink12, peach:peach12, grey:grey12, teal:teal12, lime:lime12, green:green12, yellow:yellow12, orange:orange12 },
  { mag:mag13, pink:pink13, salmon:salmon13, peach:peach13, grey:grey13, teal:teal13, green:green13, yellow:yellow13, orange:orange13 },
  { mag:mag14, pink:pink14, salmon:salmon14, teal:teal14, green:green14, brown:brown14, yellow:yellow14, orange:orange14, red:red14 },
  { mag:mag15, pink:pink15, salmon:salmon15, teal:teal15, lime:lime15, green:green15, yellow:yellow15, orange:orange15, red:red15 },
  { mag:mag16, pink:pink16, salmon:salmon16, peach:peach16, teal:teal16, lime:lime16, green:green16, yellow:yellow16, orange:orange16 },
  { mag:mag17, pink:pink17, salmon:salmon17, grey:grey17, mint:mint17, olive:olive17, yellow:yellow17, orange:orange17, red:red17 },
  { mag:mag18, pink:pink18, grey:grey18, teal:teal18, lime:lime18, olive:olive18, brown:brown18, orange:orange18, red:red18 },
  { mag:mag19, pink:pink19, teal:teal19, yellow:yellow19, orange:orange19 },
  { mag:mag20, salmon:salmon20, peach:peach20, mint:mint20, lime:lime20, yellow:yellow20, orange:orange20, red:red20 },
  { mag:mag21, pink:pink21, salmon:salmon21, mint:mint21, lime:lime21, orange:orange21 },
  { mag:mag22, olive:olive22 }
];

// little position labels under each bar
const chrTicks = [
  [135,290,542,650,790,955,1210,1345,1630,1745,1925,2065,2155,2240,2410,2680,2875],
  [190,357,485,645,790,990,1140,1285,1390,1525,1625,1740,1980,2100,2350,2450,2530,2790],
  [262,600,745,825,955,1170,1300,1370,1525,1665,1790,2020,2185,2275,2420,2580],
  [150,460,575,690,785,965,1080,1185,1380,1570,1690,1800,1930,2045,2210],
  [197,415,560,775,880,1130,1270,1390,1695,1850,1990,2160],
  [220,590,815,990,1090,1410,1650,1765,1870,2180,2380,2595],
  [155,350,583,762,905,985,1155,1380,1595,1690,1830,1945],
  [550,745,880,1010,1130,1495,1645,1745,1920,2120],
  [295,525,705,818,965,1140,1280,1430,1655,1790],
  [240,480,630,730,905,1050,1210,1620,1790,1970,2020],
  [355,530,780,905,1100,1250,1610,1820],
  [200,375,620,960,1205,1375,1695,1860],
  [15,300,530,800,1010,1150,1310],
  [195,355,455,635,785,975,1120,1360],
  [120,295,400,575,740,870,1030,1275],
  [215,520,830,1025],
  [215,390,430,585,685,815,945],
  [240,505,640,985,1155],
  [150,310,370,520,670],
  [280,560,645,750,980,1250],
  [112,325,545],
  [70,330,590]
];
const tickLabels = ['10','20','30','40','50','60','70','80','90','100','110','120','130','140','150','160','170','180'];

// breaks in the white strip, in page pixels from the bar start
const stripGaps = [9,21,34,53,64,82,97,113,126,141,158,172,189,204,223,238,252,271,288,301,319,333,352,368,384,399,417,432,451,466,483,497,515,533,548,564,581,599,613,632,648,663,680,697,715,729,746,763,781,795,812,830,845,862,880,896,913,928,946,963,978,996,1012,1029,1044,1062,1079,1095,1112,1129,1146,1161,1178,1195,1212,1228,1245,1262,1279,1295,1312,1329,1345,1362,1379,1396,1412,1429,1446,1462,1479,1496,1513,1529,1546,1563,1580,1596,1613,1630,1647,1663,1680,1697,1714];

function pairs(list, flip) {
  const pts = [];
  for (let i = 0; i + 1 < list.length; i += 2) {
    pts.push({ x: list[i], y: flip ? 1 - list[i + 1] : list[i + 1] });
  }
  return pts.sort((a, b) => a.x - b.x);
}

// x axis stays hidden so the bar fills the canvas, its labels go on the white strip
const stripLabels = {
  id: 'stripLabels',
  afterDatasetsDraw(chart, args, opts) {
    const { ctx, scales } = chart;
    ctx.save();
    ctx.fillStyle = '#555';
    ctx.font = '3px "Liberation Sans"';
    ctx.textAlign = 'center';
    ctx.textBaseline = 'middle';
    opts.ticks.forEach((v, idx) => ctx.fillText(tickLabels[idx], scales.x.getPixelForValue(v), scales.y.getPixelForValue(-0.14)));
    ctx.restore();
  }
};

const page = document.getElementById('page');

chrNames.forEach((name, i) => {
  const label = document.createElement('div');
  label.className = 'chr';
  label.textContent = name;
  label.style.top = (3.8 + i * 35.67) + 'px';
  page.appendChild(label);

  const canvas = document.createElement('canvas');
  canvas.width = chrPixels[i];
  canvas.height = 16;
  canvas.style.left = '3.3px';
  canvas.style.top = (10 + i * 35.67) + 'px';
  page.appendChild(canvas);

  const start = chrStart[i], end = chrEnd[i];
  const unitsPerPx = (end - start) / chrPixels[i];
  const datasets = [];
  let paint = 100;

  // white strip, then the blue bar
  datasets.push({ data: [{ x: start, y: -0.25 }, { x: end, y: -0.25 }], backgroundColor: '#ffffff', fill: 'origin', order: paint-- });
  datasets.push({ data: [{ x: start, y: 1 }, { x: end, y: 1 }], backgroundColor: '#7f8aff', fill: 'origin', order: paint-- });

  bottomLayers.forEach(key => {
    const list = chrLayers[i][key];
    if (list && list.length) datasets.push({ data: pairs(list, false), backgroundColor: colors[key], fill: 'origin', order: paint-- });
  });
  topLayers.forEach(key => {
    const list = chrLayers[i][key];
    if (list && list.length) datasets.push({ data: pairs(list, true), backgroundColor: colors[key], fill: 'end', order: paint-- });
  });

  const gapPoints = stripGaps.filter(g => g < chrPixels[i]).map(g => ({ x: start + g * unitsPerPx, y: -0.12 }));
  datasets.push({ data: gapPoints, showLine: false, pointStyle: 'line', rotation: 90, pointRadius: 1.6, borderWidth: 0.6, borderColor: '#c4c4c4', order: paint-- });

  new Chart(canvas, {
    type: 'line',
    data: { datasets },
    plugins: [stripLabels],
    options: {
      responsive: false,
      animation: false,
      devicePixelRatio: 1,
      events: [],
      layout: { padding: 0, autoPadding: false },
      elements: { line: { borderWidth: 0, tension: 0 }, point: { radius: 0 } },
      plugins: { legend: { display: false }, tooltip: { enabled: false }, stripLabels: { ticks: chrTicks[i] } },
      scales: {
        x: { type: 'linear', display: false, min: start, max: end },
        y: { display: false, min: -0.25, max: 1 }
      }
    }
  });
});
</script>
</body>
</html>
